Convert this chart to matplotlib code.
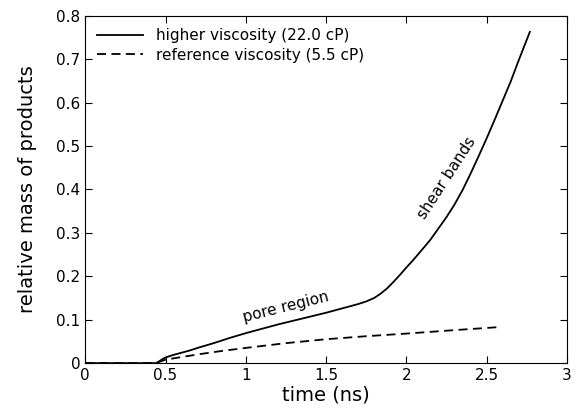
import numpy as np
import matplotlib
matplotlib.use("Agg")
import matplotlib.pyplot as plt

# higher viscosity (22.0 cP)
t_high = [0.0, 0.2, 0.44, 0.46, 0.48, 0.5, 0.55, 0.6, 0.65, 0.7, 0.8, 0.9, 1.0, 1.1, 1.2, 1.3, 1.4, 1.5, 1.6, 1.7,
          1.75, 1.8, 1.84, 1.88, 1.92, 1.96, 2.0, 2.04, 2.1, 2.15, 2.2, 2.25, 2.3, 2.35, 2.4, 2.45, 2.5, 2.55, 2.6,
          2.65, 2.7, 2.77]
m_high = [0.0, 0.0, 0.0, 0.004, 0.009, 0.013, 0.019, 0.024, 0.029, 0.035, 0.046, 0.058, 0.069, 0.079, 0.089, 0.098,
          0.107, 0.116, 0.126, 0.136, 0.142, 0.150, 0.160, 0.172, 0.187, 0.203, 0.220, 0.236, 0.262, 0.284, 0.310,
          0.336, 0.365, 0.398, 0.436, 0.476, 0.517, 0.560, 0.604, 0.648, 0.697, 0.763]

# reference viscosity (5.5 cP)
t_ref = [0.0, 0.2, 0.44, 0.47, 0.5, 0.6, 0.7, 0.85, 1.0, 1.25, 1.5, 1.75, 2.0, 2.3, 2.58]
m_ref = [0.0, 0.0, 0.0, 0.004, 0.008, 0.014, 0.020, 0.028, 0.035, 0.046, 0.055, 0.062, 0.068, 0.076, 0.083]

fig, ax = plt.subplots(figsize=(5.76, 4.15), dpi=100)
ax.plot(t_high, m_high, color='black', linewidth=1.3, label='higher viscosity (22.0 cP)')
ax.plot(t_ref, m_ref, color='black', linewidth=1.3, linestyle=(0, (5, 3)), label='reference viscosity (5.5 cP)')

ax.text(1.25, 0.128, 'pore region', rotation=14, fontsize=11, ha='center', va='center')
ax.text(2.25, 0.426, 'shear bands', rotation=57, fontsize=11, ha='center', va='center')

ax.set_xlim(0, 3)
ax.set_ylim(0, 0.8)
ax.set_xticks([0, 0.5, 1, 1.5, 2, 2.5, 3])
ax.set_xticklabels(['0', '0.5', '1', '1.5', '2', '2.5', '3'])
ax.set_yticks([0, 0.1, 0.2, 0.3, 0.4, 0.5, 0.6, 0.7, 0.8])
ax.set_yticklabels(['0', '0.1', '0.2', '0.3', '0.4', '0.5', '0.6', '0.7', '0.8'])
ax.tick_params(direction='in', top=True, right=True, labelsize=11, length=5)
ax.set_xlabel('time (ns)', fontsize=14, labelpad=2)
ax.set_ylabel('relative mass of products', fontsize=14, labelpad=14)
ax.legend(loc='upper left', frameon=False, fontsize=11, handlelength=3, borderaxespad=0.4, labelspacing=0.3)

plt.subplots_adjust(left=0.148, right=0.984, top=0.962, bottom=0.125)
plt.savefig('out.png')
